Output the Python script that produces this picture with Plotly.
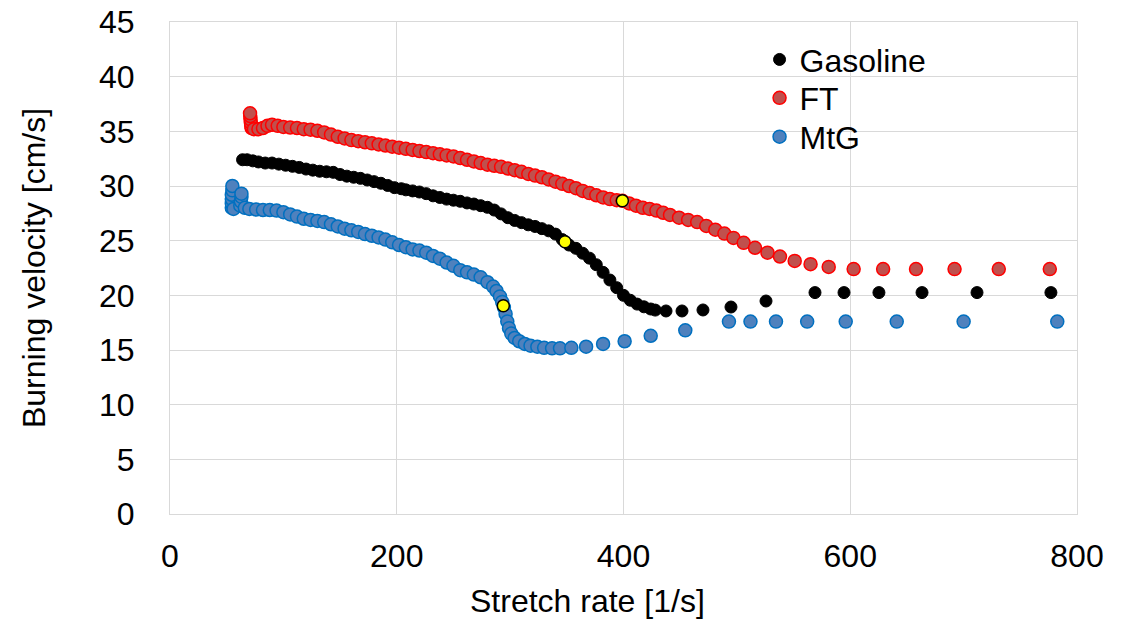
import plotly.graph_objects as go

# Gasoline
gas_x = [64, 68, 73, 78, 84, 90, 96, 102, 108, 114, 120, 126, 132, 138, 144, 150, 156, 162, 168, 174,
         180, 186, 192, 198, 204, 208, 214, 220, 226, 232, 238, 244, 250, 256, 262, 268, 274, 280, 286, 292,
         298, 304, 310, 316, 322, 328, 334, 340, 346, 352, 358, 364, 370, 376, 382, 388, 394, 400, 406, 412,
         418, 424, 428, 437.5, 451.6, 470.1, 494.8, 525.7, 568.9, 594.5, 625.3, 663.3, 711.8, 777]
gas_y = [32.4, 32.4, 32.3, 32.2, 32.1, 32.1, 32.0, 31.9, 31.8, 31.7, 31.55, 31.45, 31.35, 31.3, 31.25, 31.05, 30.9, 30.8, 30.7, 30.55,
         30.4, 30.25, 30.05, 29.85, 29.75, 29.65, 29.55, 29.45, 29.3, 29.1, 28.95, 28.8, 28.7, 28.6, 28.45, 28.35, 28.2, 28.05, 27.8, 27.45,
         27.1, 26.85, 26.65, 26.45, 26.3, 26.1, 25.9, 25.6, 25.1, 24.6, 24.3, 23.85, 23.4, 22.8, 22.1, 21.4, 20.7, 20.0, 19.55, 19.2,
         18.95, 18.75, 18.65, 18.57, 18.57, 18.66, 18.93, 19.48, 20.25, 20.25, 20.25, 20.25, 20.25, 20.25]

# FT
ft_x = [72, 71.6, 71.3, 71, 70.8, 70.6, 74, 78, 82, 86, 90, 95, 100, 106, 112, 118, 124, 130, 136, 142,
        148, 154, 160, 166, 172, 178, 184, 190, 196, 202, 208, 214, 220, 226, 232, 238, 244, 250, 256, 262,
        268, 274, 280, 286, 292, 298, 304, 310, 316, 322, 328, 334, 340, 346, 352, 358, 364, 370, 376, 382,
        388, 394, 399, 405, 411, 417, 423, 429, 435, 441, 449, 457, 465, 473, 481, 489, 497, 506, 516, 527,
        538, 551, 565, 581, 603, 629, 658, 692, 731, 776]
ft_y = [35.3, 35.5, 35.8, 36.1, 36.4, 36.65, 35.2, 35.2, 35.3, 35.5, 35.6, 35.5, 35.4, 35.35, 35.3, 35.2, 35.15, 35.05, 34.9, 34.7,
        34.5, 34.35, 34.2, 34.1, 34.0, 33.9, 33.8, 33.7, 33.6, 33.5, 33.4, 33.3, 33.2, 33.1, 33.0, 32.9, 32.8, 32.7, 32.55, 32.4,
        32.25, 32.1, 31.95, 31.85, 31.75, 31.6, 31.45, 31.3, 31.1, 30.95, 30.8, 30.6, 30.4, 30.2, 30.0, 29.8, 29.55, 29.35, 29.15, 28.95,
        28.8, 28.7, 28.65, 28.4, 28.2, 28.0, 27.9, 27.75, 27.55, 27.35, 27.1, 26.9, 26.7, 26.35, 26.0, 25.65, 25.25, 24.8, 24.35, 23.9,
        23.55, 23.15, 22.85, 22.6, 22.4, 22.4, 22.4, 22.4, 22.4, 22.4]

# MtG
mtg_x = [54.5, 54.5, 54.5, 54.5, 55, 55, 56, 62, 62.5, 63, 63, 66, 70, 76, 82, 88, 94, 100, 106, 112,
         118, 124, 130, 136, 142, 148, 154, 160, 166, 172, 178, 184, 190, 196, 202, 208, 214, 220, 226, 232,
         238, 244, 250, 256, 262, 268, 274, 280, 285, 288, 291, 293, 294.5, 296, 297.5, 299, 301, 304, 308, 313,
         318, 324, 330, 337, 344, 354, 367, 382, 401, 424, 454.5, 493, 512, 534.5, 562, 596, 641, 700, 782.6]
mtg_y = [28.0, 28.4, 28.8, 29.2, 29.6, 30.0, 27.9, 28.2, 28.6, 29.0, 29.3, 28.0, 27.9, 27.85, 27.8, 27.8, 27.75, 27.6, 27.4, 27.2,
         27.0, 26.9, 26.8, 26.7, 26.5, 26.3, 26.1, 25.95, 25.8, 25.6, 25.45, 25.3, 25.1, 24.85, 24.6, 24.4, 24.2, 24.1, 23.9, 23.6,
         23.35, 23.0, 22.7, 22.3, 22.1, 21.9, 21.65, 21.2, 20.8, 20.4, 19.9, 19.4, 18.9, 18.3, 17.6, 17.0, 16.5, 16.1, 15.8, 15.55,
         15.4, 15.3, 15.2, 15.15, 15.15, 15.2, 15.3, 15.55, 15.8, 16.3, 16.8, 17.6, 17.6, 17.6, 17.6, 17.6, 17.6, 17.6, 17.6]

# highlighted points
hl_x = [294, 348.4, 399]
hl_y = [19.05, 24.9, 28.65]

x_ticks = [0, 200, 400, 600, 800]
y_ticks = [0, 5, 10, 15, 20, 25, 30, 35, 40, 45]

FONT = "Liberation Sans, Arial, sans-serif"
FS = 32
GRID = "#D9D9D9"

fig = go.Figure()
fig.add_trace(go.Scatter(x=gas_x, y=gas_y, mode="markers", name="Gasoline", legend="legend",
                         marker=dict(size=12, color="#000000", line=dict(color="#000000", width=1))))
fig.add_trace(go.Scatter(x=ft_x, y=ft_y, mode="markers", name="FT", legend="legend2",
                         marker=dict(size=13, color="#C0504D", line=dict(color="#FF0000", width=1.5))))
fig.add_trace(go.Scatter(x=mtg_x, y=mtg_y, mode="markers", name="MtG", legend="legend3",
                         marker=dict(size=13, color="#4F81BD", line=dict(color="#0070C0", width=1.5))))
fig.add_trace(go.Scatter(x=hl_x, y=hl_y, mode="markers", showlegend=False,
                         marker=dict(size=12, color="#FFFF00", line=dict(color="#000000", width=1.5))))

leg_common = dict(x=0.650, xanchor="left", yanchor="middle", bgcolor="rgba(255,255,255,0)",
                  font=dict(size=FS), itemwidth=30)

fig.update_layout(
    width=1121, height=619,
    margin=dict(l=170, r=44, t=22, b=105),
    paper_bgcolor="white", plot_bgcolor="white",
    font=dict(family=FONT, size=FS, color="#000000"),
    showlegend=True,
    legend=dict(y=0.9235, **leg_common),
    legend2=dict(y=0.8455, **leg_common),
    legend3=dict(y=0.7665, **leg_common),
    xaxis=dict(range=[0, 800], tickvals=x_ticks, showgrid=True, gridcolor=GRID, gridwidth=1,
               zeroline=False, showline=True, mirror=True, linecolor=GRID, linewidth=1,
               ticks="", ticklabelstandoff=14, automargin=False, ticklabeloverflow="allow"),
    yaxis=dict(range=[0, 45], tickvals=y_ticks, showgrid=True, gridcolor=GRID, gridwidth=1,
               zeroline=False, showline=True, mirror=True, linecolor=GRID, linewidth=1,
               ticks="", ticklabelstandoff=28, automargin=False, ticklabeloverflow="allow",
               title=dict(text="Burning velocity [cm/s]", font=dict(size=FS), standoff=43)),
    annotations=[dict(text="Stretch rate [1/s]", xref="paper", yref="paper", x=0.4598, y=-0.1768,
                      xanchor="center", yanchor="middle", showarrow=False, font=dict(size=FS))],
)

fig.write_html("out.html", config={"displayModeBar": False},
               post_script="document.body.style.margin='0';")
